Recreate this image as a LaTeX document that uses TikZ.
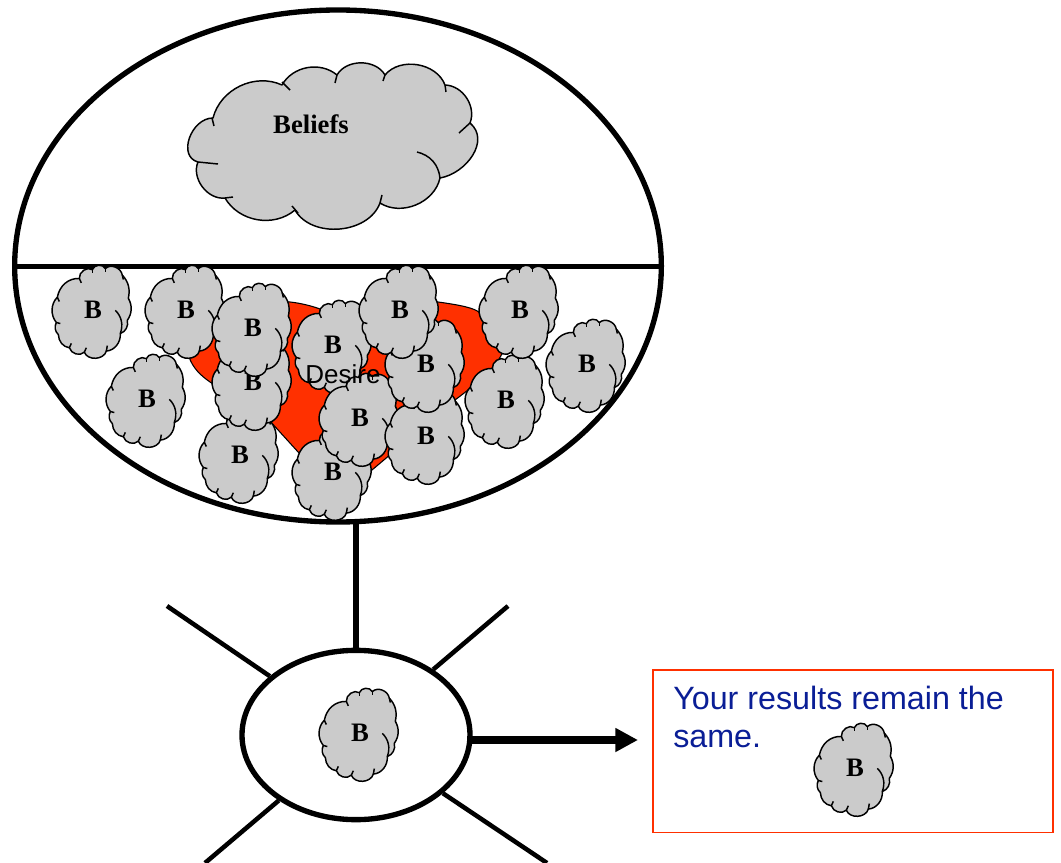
\documentclass[tikz,border=0pt]{standalone}
\usepackage{fontspec}
\setmainfont{Liberation Serif}
\newfontfamily\arialfont{Liberation Sans}
\usepackage{tikz}
\usetikzlibrary{shapes.geometric, arrows.meta}
\definecolor{cloudgray}{HTML}{CBCBCB}
\definecolor{desirered}{HTML}{FF3000}
\definecolor{resultblue}{HTML}{0A1E96}
\tikzstyle{ring} = [ellipse, draw, line width=4pt, fill=white, inner sep=0pt]
\tikzstyle{spoke} = [line width=3.4pt]
\tikzstyle{puff} = [draw, line width=1.1pt, fill=cloudgray, line join=round]
\tikzstyle{tick} = [line width=1.1pt]
\tikzstyle{cloudtext} = [font=\bfseries\fontsize{20}{24}\selectfont, inner sep=0pt]
\tikzset{
    beliefcloud/.pic={
        \begin{scope}[yscale=1.1, xshift=1pt, yshift=-1pt]
        \path[puff] (-37,-13) to[bend left=40] (-15,-30) to[bend left=65] (-2,-38) to[bend left=65] (11,-39)
            to[bend left=60] (28,-33) to[bend left=30] (34,-12) to[bend left=35] (33,8) to[bend left=45] (26,20)
            to[bend left=45] (12,36) to[bend left=70] (-10,37) to[bend left=55] (-25,33) to[bend left=40] (-36,21)
            to[bend left=40] (-38,10) to[bend left=45] (-37,-13) -- cycle;
        \draw[tick] (-15,-30) -- (-13,-26);
        \draw[tick] (-2,-38) -- (-2,-35);
        \draw[tick] (11,-39) -- (11,-36);
        \draw[tick] (28,-33) -- (29,-29);
        \draw[tick] (26,20) to[bend right=35] (21,-1);
        \draw[tick] (12,36) -- (13,31);
        \draw[tick] (-10,37) -- (-8,33);
        \draw[tick] (-25,33) -- (-23,29);
        \draw[tick] (-38,10) -- (-34,11);
        \draw[tick] (-37,-13) -- (-35,-9);
        \end{scope}
        \node[cloudtext] (-label) at (0,0) {B};
    }
}

\begin{document}
\begin{tikzpicture}[x=0.75pt, y=-0.75pt]
    \useasboundingbox (0,0) rectangle (1061,863);
    \node[ring, minimum width=485pt, minimum height=384pt] (head) at (338,266) {};
    \coordinate (lineleft) at (14,266.5);
    \coordinate (lineright) at (661,266.5);
    \draw[line width=4pt] (lineleft) -- (lineright);

    % big cloud
    \path[puff] (213,118) to[bend left=50] (282,85) to[bend left=50] (337,75) to[bend left=60] (385,75)
        to[bend left=60] (445,85) to[bend left=55] (470,123) to[out=-40, in=10, looseness=1.1] (440,178) to[bend left=55] (380,203)
        to[bend left=65] (295,210) to[bend left=50] (225,198) to[bend left=60] (198,162) to[out=165, in=180, looseness=1.2] (213,118) -- cycle;
    \draw[tick] (282,82) -- (290,90);
    \draw[tick] (337,75) -- (335,83);
    \draw[tick] (385,75) -- (383,81);
    \draw[tick] (445,85) -- (446,92);
    \draw[tick] (470,123) -- (459,133);
    \draw[tick] (440,178) to[bend right=35] (417,152);
    \draw[tick] (380,203) -- (382,195);
    \draw[tick] (292,206) -- (298,213);
    \draw[tick] (225,198) -- (233,197);
    \draw[tick] (198,162) -- (218,164);
    \draw[tick] (212,118) -- (214,126);
    \node[cloudtext] (beliefs) at (311,124) {Beliefs};

    % desire shape
    \path[draw, line width=0.8pt, fill=desirered] (189,357) .. controls (225,312) and (262,298) .. (290,302)
        .. controls (300,303) and (312,306) .. (320,309) -- (362,335) -- (405,318)
        .. controls (415,306) and (425,302) .. (438,302) .. controls (460,305) and (475,308) .. (480,313)
        .. controls (492,325) and (503,338) .. (503,350) .. controls (500,365) and (475,385) .. (455,400)
        -- (372,470) -- (299,453) -- (269,420) -- (210,382) .. controls (200,375) and (193,368) .. (189,357) -- cycle;

    \pic (b1) at (93,310) {beliefcloud};
    \pic (b2) at (147,399) {beliefcloud};
    \pic (b3) at (240,455) {beliefcloud};
    \pic (b4) at (253,382) {beliefcloud};
    \pic (b5) at (186,310) {beliefcloud};
    \pic (b6) at (253,328) {beliefcloud};
    \pic (b7) at (333,472) {beliefcloud};
    \pic (b8) at (333,345) {beliefcloud};
    \pic (b9) at (360,418) {beliefcloud};
    \pic (b10) at (426,436) {beliefcloud};
    \pic (b11) at (426,364) {beliefcloud};
    \pic (b12) at (400,310) {beliefcloud};
    \pic (b13) at (506,400) {beliefcloud};
    \pic (b14) at (520,310) {beliefcloud};
    \pic (b15) at (587,364) {beliefcloud};
    \node[font=\arialfont\fontsize{19.5}{24}\selectfont, inner sep=0pt] (desire) at (343,374) {Desire};

    % lower part
    \coordinate (spokeA) at (167,606);
    \coordinate (spokeB) at (508,606);
    \coordinate (spokeC) at (205,863);
    \coordinate (spokeD) at (547,863);
    \coordinate (stemtop) at (356,522);
    \coordinate (arrowtip) at (638,740);
    \node[ring, minimum width=171pt, minimum height=127pt] (hub) at (356,735) {};
    \draw[spoke] (hub) -- (spokeA);
    \draw[spoke] (hub) -- (spokeB);
    \draw[spoke] (hub) -- (spokeC);
    \draw[spoke] (hub) -- (spokeD);
    \draw[line width=4pt] (hub.north) -- (stemtop);
    \pic (b16) at (360,733) {beliefcloud};

    \node[draw=desirered, line width=1.2pt, minimum width=300pt, minimum height=122pt, anchor=north west, inner sep=0pt] (results) at (652,669) {};
    \draw[line width=5.5pt, -{Triangle[length=17pt, width=17pt]}] ([xshift=-4pt]hub.east |- arrowtip) -- (arrowtip);
    \node[font=\arialfont\fontsize{24.2}{28.5}\selectfont, text=resultblue, align=left, anchor=north west, inner sep=0pt] (resulttext) at (673,686) {Your results remain the\\same.};
    \pic (b17) at (855,768) {beliefcloud};
\end{tikzpicture}
\end{document}
